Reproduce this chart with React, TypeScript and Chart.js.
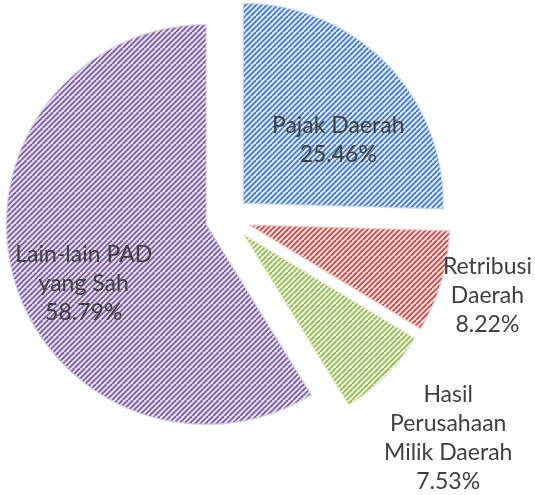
import React, { useEffect, useRef } from "react";
import { Chart, registerables } from "chart.js";

Chart.register(...registerables);

// ---- data ----
const categories = [
  "Pajak Daerah",
  "Retribusi Daerah",
  "Hasil Perusahaan Milik Daerah",
  "Lain-lain PAD yang Sah",
];
const shares = [25.46, 8.22, 7.53, 58.79];
const labelLines = [
  ["Pajak Daerah"],
  ["Retribusi", "Daerah"],
  ["Hasil", "Perusahaan", "Milik Daerah"],
  ["Lain-lain PAD", "yang Sah"],
];

// ---- style ----
const stripeColors = ["#4a7ebf", "#c0504d", "#9bbb59", "#7d60a0"];
const groundColors = ["#dbe5f2", "#f2dcdb", "#ebf1de", "#e5dfec"];
const softEdge = [
  "rgba(200,217,238,0.7)",
  "rgba(238,200,199,0.7)",
  "rgba(222,234,201,0.7)",
  "rgba(215,205,228,0.7)",
];
const explode = [22, 23, 23, 22];
const labelPlace = [
  { f: 0.57, s: 10.6 },
  { f: 1.24, s: 0 },
  { f: 1.44, s: 0 },
  { f: 0.68, s: -9.8 },
];
const FONT_FAMILY = "Lato, 'Open Sans', sans-serif";
const FONT_SIZE = 23;
const LINE_H = 29;

function makePattern(line: string, ground: string): CanvasPattern | string {
  const size = 16;
  const c = document.createElement("canvas");
  c.width = size;
  c.height = size;
  const g = c.getContext("2d");
  if (!g) return ground;
  g.fillStyle = ground;
  g.fillRect(0, 0, size, size);
  g.strokeStyle = line;
  g.lineWidth = 1.8;
  const step = size / 3;
  for (let k = -6; k <= 9; k++) {
    const x0 = k * step;
    g.beginPath();
    g.moveTo(x0, size);
    g.lineTo(x0 + size, 0);
    g.stroke();
  }
  const p = g.createPattern(c, "repeat");
  return p || ground;
}

const explodePlugin = {
  id: "explodeSlices",
  afterDatasetUpdate(chart: any, args: any) {
    const meta = chart.getDatasetMeta(args.index);
    meta.data.forEach((arc: any, i: number) => {
      const mid = (arc.startAngle + arc.endAngle) / 2;
      arc.x += Math.cos(mid) * explode[i];
      arc.y += Math.sin(mid) * explode[i];
    });
  },
};

const labelPlugin = {
  id: "sliceLabels",
  afterDatasetsDraw(chart: any) {
    const ctx = chart.ctx;
    const meta = chart.getDatasetMeta(0);
    ctx.save();
    ctx.font = `${FONT_SIZE}px ${FONT_FAMILY}`;
    ctx.fillStyle = "#404040";
    ctx.textAlign = "center";
    ctx.textBaseline = "middle";
    meta.data.forEach((arc: any, i: number) => {
      const place = labelPlace[i];
      const mid = (arc.startAngle + arc.endAngle) / 2 + (place.s * Math.PI) / 180;
      const r = arc.outerRadius * place.f;
      const cx = arc.x + Math.cos(mid) * r;
      const cy = arc.y + Math.sin(mid) * r;
      const lines = [...labelLines[i], shares[i].toFixed(2) + "%"];
      const n = lines.length;
      lines.forEach((t, j) => {
        ctx.fillText(t, cx, cy + (j - (n - 1) / 2) * LINE_H);
      });
    });
    ctx.restore();
  },
};

export default function App() {
  const ref = useRef<HTMLCanvasElement | null>(null);

  useEffect(() => {
    const canvas = ref.current;
    if (!canvas) return;
    const patterns = stripeColors.map((c, i) => makePattern(c, groundColors[i]));
    const chart = new Chart(canvas, {
      type: "pie",
      data: {
        labels: categories,
        datasets: [
          {
            data: shares,
            backgroundColor: patterns as any,
            borderColor: softEdge,
            borderWidth: 1.5,
            clip: false as any,
          },
        ],
      },
      options: {
        responsive: false,
        animation: false,
        events: [],
        radius: 200,
        layout: { padding: { left: 0, right: 80, top: 0, bottom: 58 } },
        plugins: {
          legend: { display: false },
          tooltip: { enabled: false },
          title: { display: false },
        },
      } as any,
      plugins: [explodePlugin, labelPlugin],
    });
    return () => chart.destroy();
  }, []);

  return (
    <div style={{ position: "absolute", left: 0, top: 0, width: 535, height: 495, background: "#ffffff" }}>
      <canvas ref={ref} width={535} height={495} style={{ display: "block" }} />
    </div>
  );
}
